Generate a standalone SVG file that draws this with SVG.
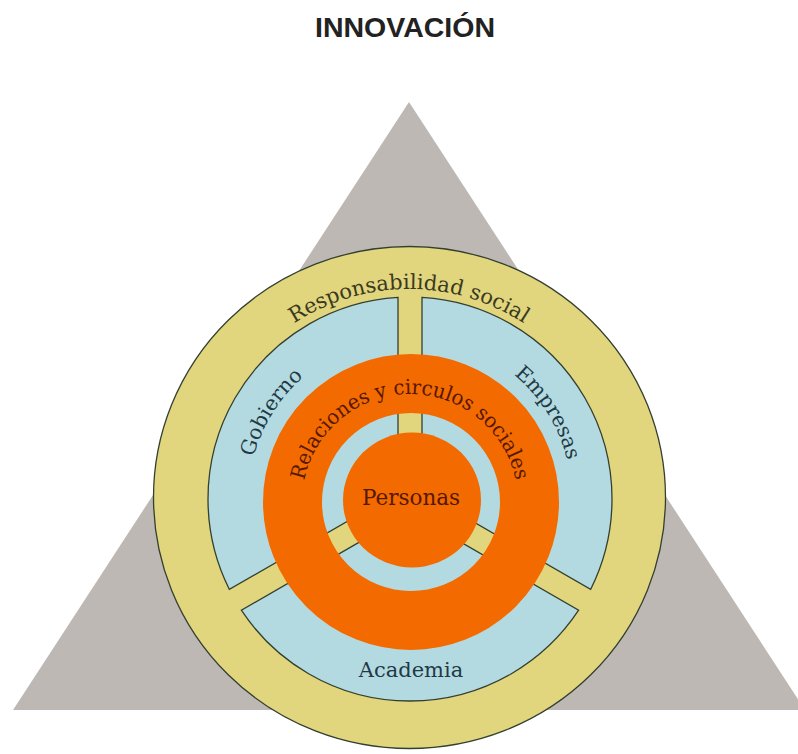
<svg xmlns="http://www.w3.org/2000/svg" width="798" height="754" viewBox="0 0 798 754">
  <style>
    .title { font-family: "Liberation Sans", Arial, sans-serif; font-weight: bold; font-size: 28.5px; fill: #222222; }
    .lbl { font-family: "DejaVu Serif", "Liberation Serif", serif; }
    .teal { fill: #1f3a46; }
    .olive { fill: #3a3a1e; }
    .brown { fill: #561800; }
    .wedge { fill: #b4dae1; stroke: #33402f; stroke-width: 1.3; }
  </style>
  <defs>
    <path id="arcResp" d="M261.21,645.79 A209,209 0 1 1 556.79,645.79"/>
    <path id="arcMid" d="M295.45,613.55 A162,162 0 1 1 524.55,613.55"/>
    <path id="arcRel" d="M333.63,578.37 A108,108 0 1 1 486.37,578.37"/>
    <path id="wedgeShape" d="M12,-6.93 L12,-201.64 A202,202 0 0 1 180.62,90.43 Z"/>
  </defs>
  <rect width="798" height="754" fill="#ffffff"/>

  <g id="title">
    <text class="title" x="405" y="37" text-anchor="middle">INNOVACIÓN</text>
  </g>

  <g id="triangle">
    <polygon points="409,102 13,710 805,710" fill="#bdb8b4"/>
  </g>

  <g id="responsabilidad-social">
    <ellipse cx="409.5" cy="497.5" rx="256" ry="251" fill="#e1d57e" stroke="#33402f" stroke-width="1.3"/>
    <text class="lbl olive" font-size="21"><textPath href="#arcResp" startOffset="50%" text-anchor="middle">Responsabilidad social</textPath></text>
  </g>

  <g id="empresas">
    <use href="#wedgeShape" class="wedge" transform="translate(410,499)"/>
    <text class="lbl teal" font-size="20.5"><textPath href="#arcMid" startOffset="71.5%" text-anchor="middle">Empresas</textPath></text>
  </g>

  <g id="academia">
    <use href="#wedgeShape" class="wedge" transform="translate(410,499) rotate(120)"/>
    <text class="lbl teal" font-size="21" x="411" y="677" text-anchor="middle">Academia</text>
  </g>

  <g id="gobierno">
    <use href="#wedgeShape" class="wedge" transform="translate(410,499) rotate(240)"/>
    <text class="lbl teal" font-size="20.5"><textPath href="#arcMid" startOffset="28.5%" text-anchor="middle">Gobierno</textPath></text>
  </g>

  <g id="relaciones">
    <circle cx="411" cy="502" r="118.5" fill="none" stroke="#f36a00" stroke-width="59"/>
    <text class="lbl brown" font-size="20.5"><textPath href="#arcRel" startOffset="50%" text-anchor="middle" textLength="296" lengthAdjust="spacingAndGlyphs">Relaciones y circulos sociales</textPath></text>
  </g>

  <g id="personas">
    <ellipse cx="412" cy="500" rx="69" ry="67.5" fill="#f36a00"/>
    <text class="lbl brown" font-size="21.5" x="411" y="505" text-anchor="middle">Personas</text>
  </g>
</svg>
